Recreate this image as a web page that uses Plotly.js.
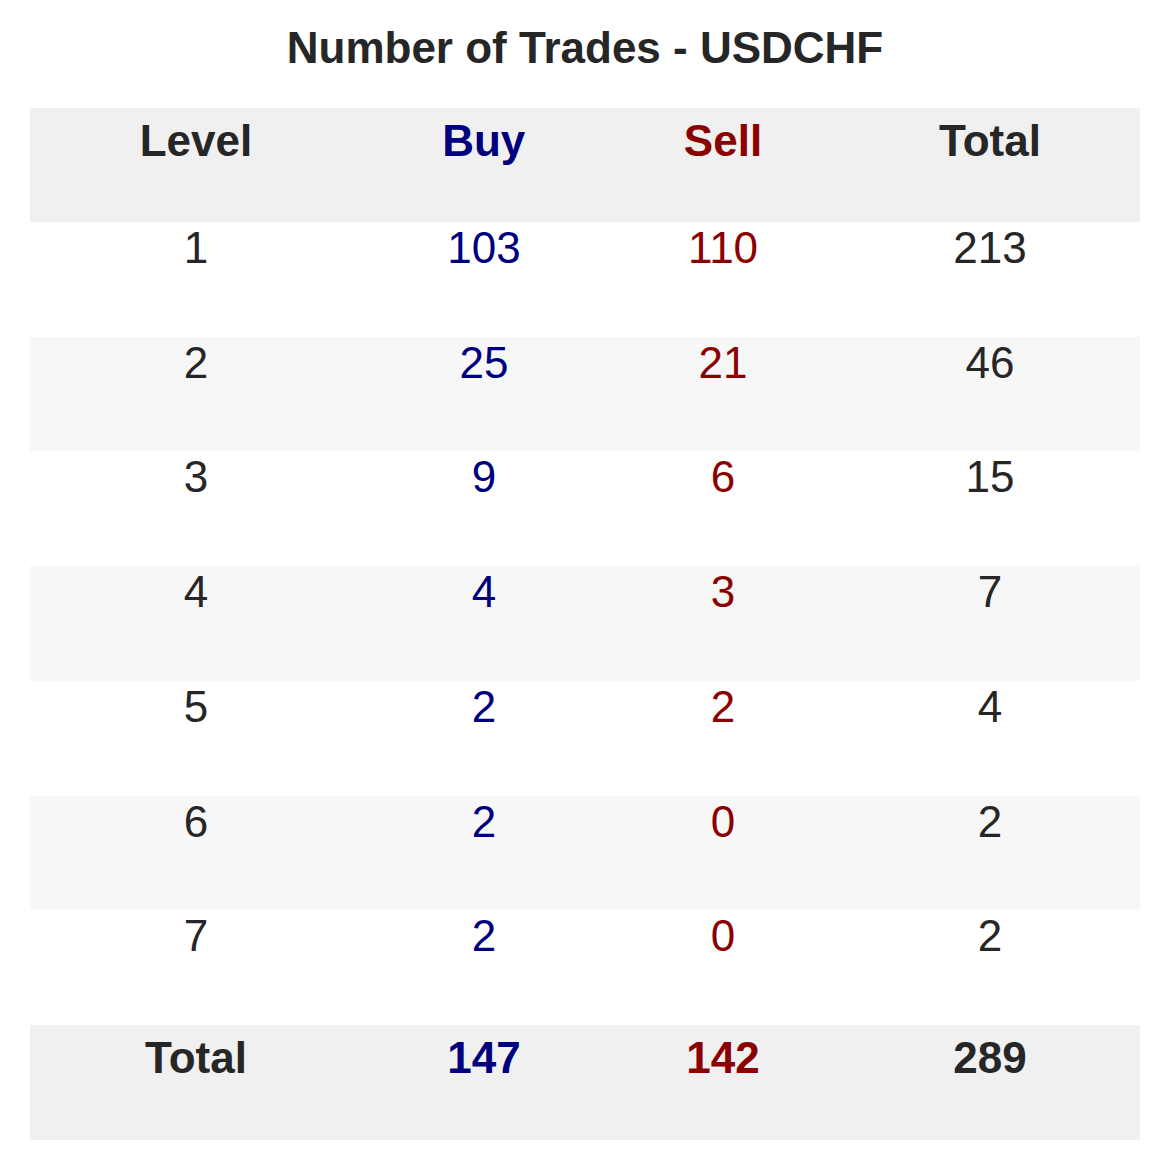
<html><head><script src="https://cdn.plot.ly/plotly-3.0.1.min.js"></script></head><body style="margin:0">
<div id="c" style="width:1170px;height:1170px"></div>
<script>
const headers=["Level","Buy","Sell","Total"];
const levels=["1","2","3","4","5","6","7","Total"];
const buy=[103,25,9,4,2,2,2,147];
const sell=[110,21,6,3,2,0,0,142];
const total=[213,46,15,7,4,2,2,289];
const dark="#262626",navy="#00007f",red="#8b0000";
const b=(arr)=>arr.map((v,i)=>i===arr.length-1?"<b>"+v+"</b>":String(v));
const rowFill=levels.map((_,i)=>i===levels.length-1?"#f0f0f0":(i%2===0?"#ffffff":"#f7f7f7"));
const hc=[dark,navy,red,dark];
Plotly.newPlot("c",[{type:"table",
 domain:{x:[30/1170,1140/1170],y:[1-1142/1170,1-108/1170]},
 columnwidth:[332,244,234,300],
 header:{values:headers.map((h)=>"<b>"+h+"</b>"),height:114,align:"center",
  fill:{color:"#f0f0f0"},line:{width:0,color:"rgba(0,0,0,0)"},
  font:{family:"Liberation Sans, Arial",size:44,color:hc}},
 cells:{values:[b(levels),b(buy),b(sell),b(total)],height:114.7,align:"center",
  fill:{color:[rowFill,rowFill,rowFill,rowFill]},line:{width:0,color:"rgba(0,0,0,0)"},
  font:{family:"Liberation Sans, Arial",size:44,color:hc}}
}],{width:1170,height:1170,margin:{l:0,r:0,t:0,b:0},paper_bgcolor:"#fff",
 title:{text:"<b>Number of Trades - USDCHF</b>",x:0.5,y:0.959,xanchor:"center",yanchor:"middle",font:{family:"Liberation Sans, Arial",size:44,color:dark}}},{displayModeBar:false});
</script></body></html>
